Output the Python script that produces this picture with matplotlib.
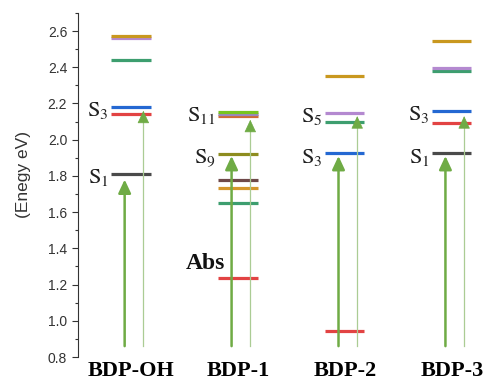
import matplotlib.pyplot as plt
from matplotlib.ticker import MultipleLocator

plt.rcParams['font.family'] = ['Liberation Sans', 'DejaVu Sans']
plt.rcParams['mathtext.fontset'] = 'stix'

# energy levels (eV) for each compound
compounds = ['BDP-OH', 'BDP-1', 'BDP-2', 'BDP-3']
levels_oh = [2.57, 2.56, 2.44, 2.18, 2.14, 1.81]
levels_1 = [2.155, 2.143, 2.13, 1.92, 1.777, 1.734, 1.651, 1.234]
levels_2 = [2.351, 2.147, 2.097, 1.924, 0.943]
levels_3 = [2.545, 2.396, 2.377, 2.158, 2.092, 1.924]

# singlet labels: (compound index, state number, energy)
state_labels = [(0, '1', 1.81), (0, '3', 2.18),
                (1, '9', 1.92), (1, '11', 2.155),
                (2, '3', 1.924), (2, '5', 2.147),
                (3, '1', 1.924), (3, '3', 2.158)]

# absorption arrows: start energy, strong / weak transition end
abs_start = 0.86
abs_strong = [1.78, 1.91, 1.91, 1.91]
abs_weak = [2.16, 2.11, 2.13, 2.13]

gold, purple, green, blue = '#c9981f', '#b489d0', '#3d9e6f', '#2468d2'
red, black, olive, brown = '#e24343', '#4a4a4a', '#8d8c1f', '#6f4949'
orange, lime, rust = '#d4962c', '#78c41f', '#cf6b35'
level_colors = [
    [gold, purple, green, blue, red, black],
    [lime, '#9a86c0', rust, olive, brown, orange, green, red],
    [gold, purple, green, blue, red],
    [gold, purple, green, blue, red, black],
]
all_levels = [levels_oh, levels_1, levels_2, levels_3]

fig = plt.figure(figsize=(4.85, 3.84), dpi=100)
ax = fig.add_axes([0.160, 0.0703, 0.840, 0.896])

half = 0.183
for i, (lv, cols) in enumerate(zip(all_levels, level_colors)):
    # draw lower-listed levels first so the stacked ones read top-down
    for e, c in list(zip(lv, cols))[::-1]:
        ax.plot([i - half, i + half], [e, e], color=c, lw=2.3,
                solid_capstyle='butt', zorder=2)

for i, n, e in state_labels:
    ax.text(i - half - 0.025, e - 0.05, '$\\mathrm{S}_{%s}$' % n,
            ha='right', va='baseline', fontsize=16, color='#222222')

arrow_green = '#6fab45'
head = '-|>,head_length=0.45,head_width=0.21'
for i in range(len(compounds)):
    x1 = i - 0.06
    ax.annotate('', xy=(x1, abs_strong[i]), xytext=(x1, abs_start),
                arrowprops=dict(arrowstyle=head, color=arrow_green, lw=1.8,
                                mutation_scale=18, shrinkA=0, shrinkB=0),
                zorder=4)
    x2 = i + 0.115
    ax.plot([x2, x2], [abs_start, abs_weak[i] - 0.04], color='#abcc94',
            lw=0.9, zorder=3)
    ax.annotate('', xy=(x2, abs_weak[i]), xytext=(x2, abs_weak[i] - 0.06),
                arrowprops=dict(arrowstyle=head, color=arrow_green, lw=0.5,
                                mutation_scale=18, shrinkA=0, shrinkB=0),
                zorder=4)

ax.text(0.70, 1.318, 'Abs', ha='center', va='center', fontsize=17,
        fontweight='bold', family='Liberation Serif', color='#111111')

ax.set_xlim(-0.5, 3.31)
ax.set_ylim(0.8, 2.7)
ax.set_xticks(range(len(compounds)))
ax.set_xticklabels(compounds, fontsize=16, fontweight='bold',
                   family='Liberation Serif')
ax.tick_params(axis='x', length=0, pad=3)
ax.yaxis.set_major_locator(MultipleLocator(0.2))
ax.yaxis.set_minor_locator(MultipleLocator(0.1))
ax.tick_params(axis='y', which='major', direction='out', length=4, width=0.8,
               labelsize=10, labelcolor='#333333', color='#333333')
ax.tick_params(axis='y', which='minor', direction='out', length=2.5, width=0.8,
               color='#333333')
ax.set_ylabel('(Enegy eV)', fontsize=12.5, color='#333333')
ax.yaxis.set_label_coords(-0.115, 0.53)

for s in ['top', 'right', 'bottom']:
    ax.spines[s].set_visible(False)
ax.spines['left'].set_color('#333333')
ax.spines['left'].set_linewidth(0.8)

fig.savefig('out.png', dpi=100)
